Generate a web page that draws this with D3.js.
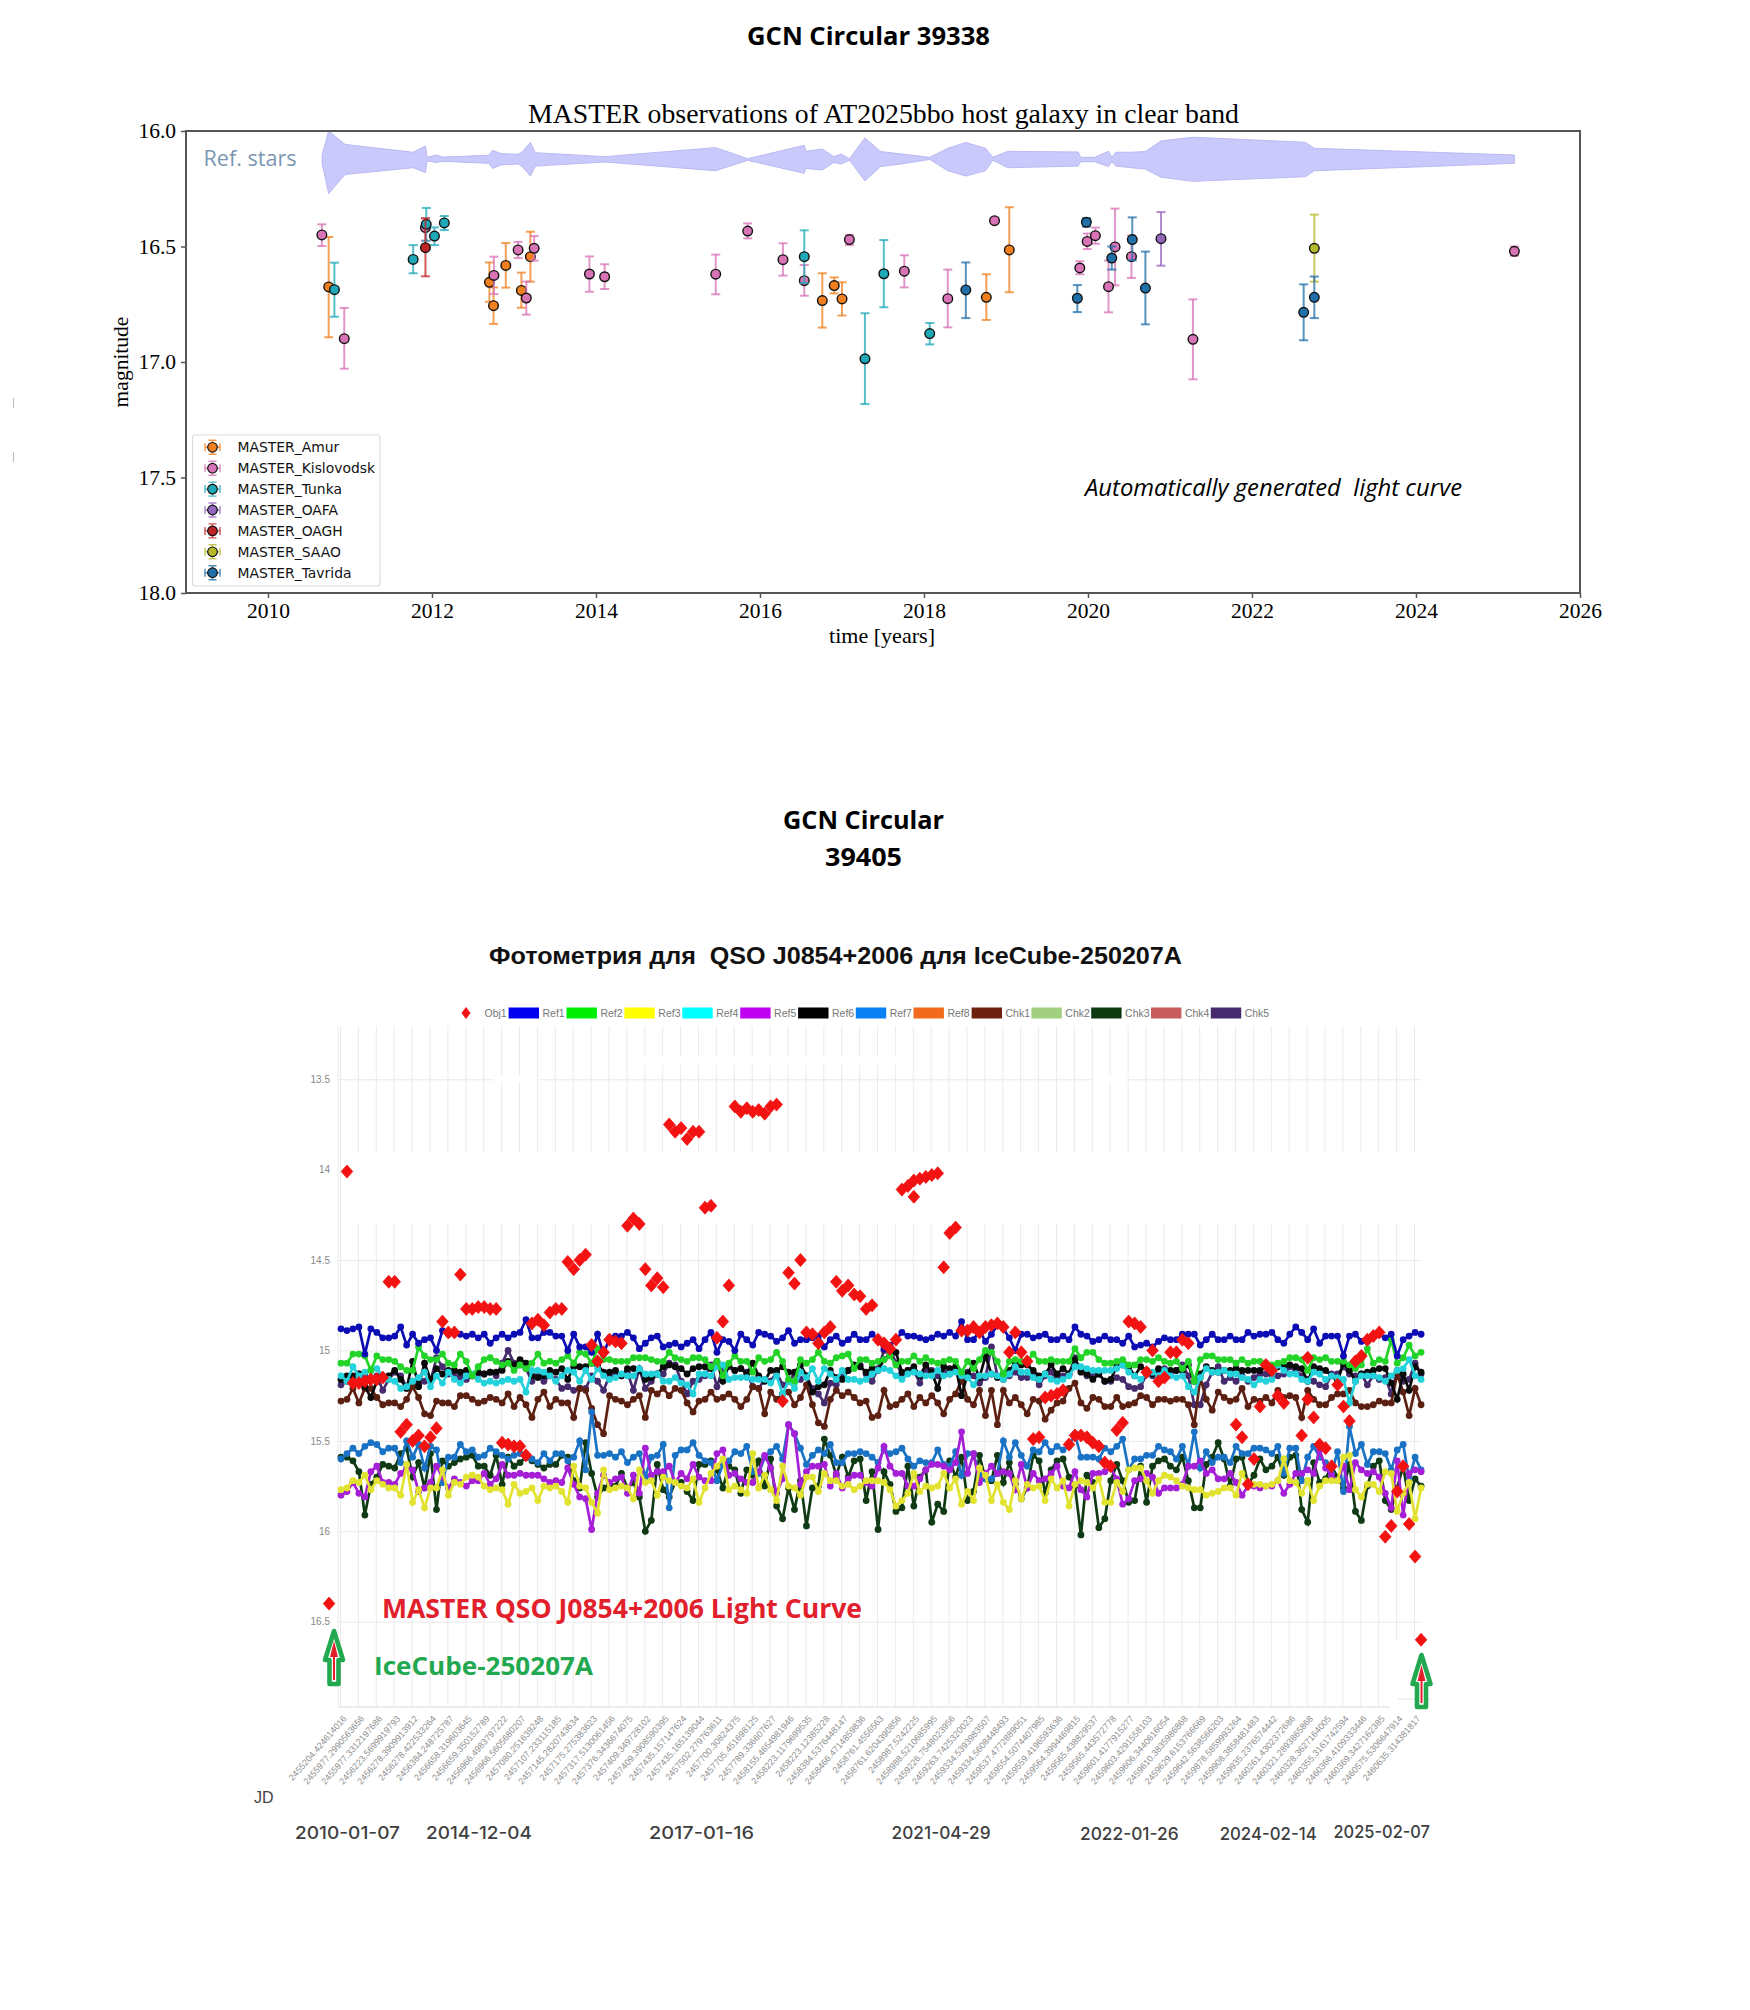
<!DOCTYPE html>
<html lang="en"><head><meta charset="utf-8">
<style>html,body{margin:0;padding:0;background:#fff}svg{display:block}text{white-space:pre}</style>
<script src="https://cdn.jsdelivr.net/npm/d3@7"></script></head><body>
<script>
// ---------- Chart 1: [year, magnitude, upper error end, lower error end]
const amur=[[2010.74,16.675,16.459,16.893],[2012.70,16.655,16.569,16.739],[2012.75,16.756,16.677,16.835],[2012.90,16.582,16.485,16.678],[2013.09,16.69,16.613,16.765],[2013.20,16.544,16.436,16.652],[2016.76,16.734,16.616,16.851],[2016.905,16.669,16.634,16.703],[2017.0,16.727,16.655,16.799],[2018.76,16.72,16.62,16.818],[2019.04,16.515,16.33,16.698]];
const kislovodsk=[[2010.657,16.45,16.404,16.498],[2010.93,16.899,16.766,17.029],[2011.92,16.418,16.378,16.475],[2012.755,16.625,16.544,16.706],[2013.05,16.515,16.48,16.55],[2013.15,16.723,16.652,16.795],[2013.246,16.508,16.455,16.561],[2013.92,16.619,16.543,16.696],[2014.105,16.631,16.577,16.684],[2015.46,16.62,16.535,16.707],[2015.85,16.433,16.40,16.465],[2016.28,16.557,16.486,16.626],[2016.54,16.648,16.58,16.713],[2017.09,16.47,16.45,16.494],[2017.76,16.607,16.538,16.677],[2018.29,16.726,16.60,16.85],[2018.86,16.388,16.38,16.40],[2019.90,16.593,16.564,16.62],[2019.99,16.478,16.444,16.511],[2020.09,16.453,16.418,16.488],[2020.25,16.674,16.561,16.785],[2020.33,16.502,16.336,16.668],[2020.53,16.544,16.452,16.636],[2021.28,16.902,16.729,17.075],[2025.20,16.521,16.50,16.54]];
const tunka=[[2010.81,16.687,16.57,16.804],[2011.77,16.556,16.494,16.616],[2011.93,16.404,16.333,16.475],[2012.03,16.455,16.417,16.494],[2012.15,16.398,16.368,16.429],[2016.54,16.544,16.43,16.658],[2017.28,16.986,16.789,17.182],[2017.51,16.618,16.472,16.763],[2018.07,16.877,16.831,16.924]];
const oafa=[[2020.89,16.466,16.351,16.583]];
const oagh=[[2011.92,16.505,16.378,16.629]];
const saao=[[2022.76,16.508,16.362,16.652]];
const tavrida=[[2018.51,16.688,16.569,16.81],[2019.87,16.724,16.667,16.784],[2019.98,16.395,16.377,16.414],[2020.29,16.55,16.50,16.60],[2020.54,16.47,16.374,16.56],[2020.70,16.68,16.522,16.837],[2022.63,16.785,16.664,16.906],[2022.76,16.72,16.63,16.81]];
const stationNames=["MASTER_Amur","MASTER_Kislovodsk","MASTER_Tunka","MASTER_OAFA","MASTER_OAGH","MASTER_SAAO","MASTER_Tavrida"];
const stationColors=["#f0801f","#d873b6","#1fa9b8","#9467bd","#c02525","#b8b92a","#1f6fa8"];
const xTicksYears=[2010,2012,2014,2016,2018,2020,2022,2024,2026];
const yTicksMag=[16,16.5,17,17.5,18];
// Reference star band: [year, upper, lower]
const refBand=[[2010.66,16.104,16.14],[2010.74,16.0,16.271],[2010.94,16.058,16.188],[2011.77,16.092,16.159],[2011.92,16.065,16.18],[2011.94,16.114,16.13],[2012.05,16.104,16.136],[2012.13,16.113,16.131],[2012.69,16.105,16.14],[2012.74,16.084,16.162],[2012.84,16.098,16.147],[2013.05,16.101,16.143],[2013.10,16.09,16.154],[2013.20,16.05,16.195],[2013.26,16.094,16.152],[2014.11,16.111,16.134],[2015.46,16.072,16.172],[2015.85,16.12,16.127],[2016.54,16.062,16.183],[2016.56,16.088,16.162],[2016.76,16.078,16.169],[2016.90,16.111,16.136],[2016.99,16.1,16.143],[2017.09,16.12,16.126],[2017.28,16.03,16.216],[2017.47,16.089,16.154],[2017.76,16.101,16.141],[2018.07,16.114,16.123],[2018.29,16.075,16.172],[2018.51,16.05,16.195],[2018.75,16.075,16.172],[2018.84,16.114,16.126],[2019.02,16.088,16.159],[2019.88,16.091,16.152],[2019.91,16.114,16.133],[2020.08,16.114,16.133],[2020.25,16.088,16.154],[2020.29,16.114,16.133],[2020.34,16.092,16.152],[2020.53,16.092,16.159],[2020.70,16.089,16.165],[2020.89,16.043,16.2],[2021.28,16.027,16.218],[2022.65,16.049,16.198],[2022.76,16.075,16.172],[2025.20,16.104,16.14]];

// ---------- Chart 2
const jdLabels=["2455204.424614016","2455977.2990563656","2455977.3312197686","2456223.5699919793","2456278.3909913912","2456278.422533264","2456384.248725787","2456658.319603645","2456659.350152789","2456966.4983797222","2456966.5605680207","2457080.251639248","2457107.233115185","2457145.2820743634","2457175.275383623","2457317.5130061456","2457376.3436674075","2457409.349728102","2457409.3908590395","2457435.157147624","2457435.165139044","2457502.279763611","2457700.30824375","2457705.451698125","2457789.336607627","2458155.4654981946","2458223.1179699535","2458223.12385228","2458384.5376448147","2458466.4714859836","2458761.4556563","2458761.6204390856","2458987.5242225","2458988.5210685995","2459226.7548023956","2459263.7425320023","2459334.5393983507","2459334.5608448493","2459537.4772889051","2459554.5074407985","2459559.4196593636","2459564.3994469815","2459565.438829537","2459565.443572778","2459601.4177915277","2459603.4291558103","2459606.3440616054","2459610.3835986868","2459629.6153766669","2459642.5638566203","2459878.5859993264","2459908.3858481483","2459935.2376574442","2460261.4302372686","2460321.2893865868","2460328.3627164005","2460355.3161742594","2460366.4109333446","2460369.3427162385","2460575.5306647914","2460635.314381817"];
const yTicks2=[13.5,14,14.5,15,15.5,16,16.5];
const ref1=[14.88,14.89,14.88,14.87,15.02,14.88,14.90,14.93,14.93,14.92,14.87,14.97,14.91,14.96,14.94,14.93,15.00,14.89,14.91,14.90,14.91,14.92,14.91,14.93,14.91,14.96,14.93,14.91,14.93,14.91,14.90,14.83,14.93,14.93,14.90,14.90,14.92,14.92,15.00,14.91,14.98,14.98,15.01,14.91,15.02,14.93,14.92,14.92,14.90,14.93,14.99,14.96,14.93,14.92,14.98,14.97,14.96,14.98,14.96,14.94,14.99,14.94,14.90,15.01,14.94,14.95,15.00,14.91,14.94,14.97,14.90,14.91,14.92,14.95,14.93,14.89,
14.96,14.94,14.94,14.93,14.92,14.98,14.94,14.92,14.96,14.94,14.91,14.94,14.94,14.91,14.94,14.99,14.97,14.94,14.90,14.92,14.92,14.93,14.94,14.93,14.91,14.92,14.90,14.92,14.84,14.94,14.94,14.89,14.95,14.91,14.86,14.88,14.93,15.00,14.91,14.91,14.93,14.92,14.91,14.94,14.94,14.92,14.94,14.87,14.91,14.92,14.95,14.94,14.92,14.94,14.94,
14.96,14.92,14.98,14.97,14.96,14.98,14.95,14.93,14.94,14.94,14.91,14.91,14.91,14.97,14.94,14.91,14.94,14.94,14.92,14.94,14.94,14.90,14.92,14.91,14.91,14.90,14.94,14.96,14.91,14.87,14.90,14.94,14.88,14.96,14.92,14.92,14.92,15.03,14.92,14.91,14.95,14.95,14.92,14.91,14.93,14.91,15.03,14.94,14.92,14.90,14.91];
const ref2=[15.07,15.07,15.02,15.02,15.03,15.11,15.03,15.05,15.05,15.06,15.09,15.11,15.11,14.98,15.03,15.05,15.05,15.02,15.07,15.08,15.02,15.06,15.14,15.09,15.05,15.04,15.06,15.08,15.07,15.11,15.08,15.10,15.07,15.02,15.07,15.06,15.07,15.05,15.03,15.07,15.01,15.02,15.07,14.99,15.05,15.05,15.06,15.06,15.06,15.04,15.04,15.04,15.05,15.06,15.06,15.01,15.04,15.05,15.06,15.04,15.04,15.05,15.09,15.06,15.14,15.07,15.03,15.06,15.06,15.12,15.04,15.06,15.05,15.01,15.06,15.16,
15.17,15.05,15.07,15.05,15.01,15.06,15.07,15.04,15.03,15.02,15.10,15.05,15.05,15.07,15.06,15.05,15.03,15.08,15.06,15.06,15.03,15.06,15.04,15.06,15.07,15.06,15.05,15.06,15.12,15.06,15.10,15.05,15.00,15.01,15.06,15.13,15.06,15.05,15.06,15.06,15.02,15.06,15.06,15.05,15.06,15.06,15.06,14.99,15.04,15.01,15.01,15.05,15.07,15.07,15.06,
15.05,15.08,15.08,15.05,15.05,15.06,15.04,15.06,15.07,15.06,15.10,15.06,15.17,15.05,15.03,15.03,15.05,15.05,15.05,15.07,15.05,15.07,15.06,15.06,15.07,15.08,15.07,15.06,15.04,15.04,15.05,15.11,15.04,15.05,15.04,15.06,15.06,15.06,15.08,15.10,15.08,14.99,15.07,15.05,15.06,14.94,15.07,15.04,14.97,15.03,15.01];
const ref3=[15.77,15.76,15.72,15.73,15.69,15.77,15.72,15.74,15.76,15.76,15.80,15.63,15.84,15.77,15.87,15.76,15.76,15.66,15.80,15.73,15.74,15.70,15.69,15.70,15.75,15.77,15.76,15.77,15.85,15.74,15.79,15.78,15.76,15.83,15.75,15.76,15.75,15.78,15.84,15.64,15.75,15.76,15.84,15.90,15.66,15.77,15.76,15.75,15.76,15.82,15.66,15.73,15.72,15.80,15.70,15.72,15.73,15.75,15.76,15.71,15.84,15.76,15.68,15.64,15.60,15.77,15.75,15.77,15.79,15.57,15.76,15.69,15.77,15.83,15.64,15.75,
15.76,15.80,15.70,15.70,15.78,15.68,15.72,15.72,15.75,15.74,15.77,15.75,15.72,15.72,15.72,15.73,15.77,15.86,15.83,15.79,15.68,15.78,15.75,15.76,15.75,15.68,15.76,15.71,15.85,15.78,15.83,15.65,15.69,15.83,15.74,15.84,15.88,15.72,15.82,15.74,15.76,15.75,15.83,15.71,15.76,15.72,15.86,15.74,15.72,15.73,15.76,15.71,15.84,15.84,15.73,
15.78,15.66,15.65,15.65,15.72,15.79,15.72,15.69,15.70,15.72,15.75,15.76,15.77,15.77,15.80,15.79,15.78,15.76,15.76,15.80,15.68,15.74,15.74,15.74,15.75,15.74,15.72,15.60,15.72,15.73,15.79,15.72,15.83,15.75,15.72,15.72,15.72,15.59,15.58,15.77,15.81,15.74,15.74,15.78,15.67,15.68,15.89,15.79,15.73,15.93,15.76];
const ref4=[15.14,15.17,15.09,15.14,15.12,15.11,15.10,15.14,15.16,15.17,15.21,15.20,15.17,15.15,15.12,15.20,15.14,15.18,15.12,15.16,15.18,15.14,15.13,15.16,15.18,15.17,15.18,15.17,15.16,15.17,15.16,15.23,15.11,15.11,15.12,15.14,15.17,15.14,15.11,15.12,15.17,15.11,15.16,15.10,15.14,15.16,15.15,15.13,15.14,15.14,15.10,15.13,15.13,15.13,15.17,15.17,15.15,15.18,15.19,15.24,15.13,15.13,15.14,15.09,15.08,15.16,15.15,15.15,15.15,15.16,15.16,15.16,15.18,15.14,15.24,15.17,
15.21,15.12,15.15,15.10,15.17,15.10,15.13,15.16,15.11,15.16,15.16,15.17,15.16,15.13,15.11,15.10,15.11,15.14,15.16,15.13,15.12,15.13,15.14,15.14,15.11,15.14,15.13,15.12,15.14,15.15,15.19,15.14,15.14,15.13,15.14,15.16,15.13,15.09,15.12,15.12,15.15,15.16,15.13,15.16,15.17,15.16,15.14,15.09,15.09,15.10,15.11,15.11,15.11,15.11,15.10,
15.08,15.12,15.14,15.16,15.13,15.12,15.14,15.11,15.14,15.15,15.14,15.20,15.23,15.15,15.10,15.12,15.12,15.11,15.13,15.13,15.15,15.16,15.19,15.16,15.17,15.16,15.08,15.11,15.13,15.13,15.16,15.17,15.12,15.13,15.16,15.14,15.15,15.16,15.29,15.17,15.14,15.14,15.14,15.15,15.17,15.14,15.11,15.10,15.05,15.14,15.16];
const ref5=[15.80,15.78,15.73,15.79,15.81,15.67,15.64,15.73,15.73,15.74,15.68,15.65,15.66,15.78,15.76,15.73,15.64,15.70,15.76,15.71,15.73,15.75,15.72,15.72,15.68,15.74,15.71,15.63,15.69,15.69,15.68,15.69,15.69,15.69,15.71,15.73,15.72,15.73,15.65,15.74,15.81,15.82,15.99,15.79,15.69,15.73,15.71,15.70,15.79,15.69,15.79,15.54,15.69,15.67,15.67,15.64,15.73,15.68,15.71,15.63,15.70,15.72,15.72,15.57,15.55,15.69,15.68,15.71,15.73,15.73,15.67,15.58,15.65,15.79,15.71,15.41,
15.46,15.74,15.67,15.64,15.64,15.63,15.75,15.68,15.76,15.71,15.69,15.69,15.73,15.75,15.65,15.53,15.64,15.68,15.68,15.75,15.75,15.71,15.66,15.63,15.63,15.64,15.66,15.62,15.45,15.68,15.57,15.73,15.68,15.64,15.68,15.67,15.68,15.77,15.63,15.76,15.68,15.72,15.71,15.68,15.64,15.75,15.76,15.67,15.77,15.81,15.68,15.68,15.67,15.65,15.71,
15.85,15.82,15.72,15.71,15.68,15.70,15.79,15.76,15.76,15.76,15.74,15.64,15.64,15.61,15.68,15.66,15.71,15.71,15.68,15.73,15.80,15.75,15.75,15.76,15.75,15.75,15.72,15.79,15.74,15.68,15.68,15.66,15.68,15.55,15.65,15.69,15.72,15.64,15.77,15.62,15.66,15.68,15.67,15.70,15.79,15.87,15.61,15.91,15.68,15.66,15.67];
const ref6=[15.16,15.14,15.14,15.13,15.20,15.26,15.17,15.15,15.14,15.11,15.16,15.21,15.06,15.20,15.07,15.16,15.10,15.13,15.11,15.11,15.12,15.11,15.14,15.12,15.13,15.12,15.12,15.11,15.06,15.08,15.05,15.07,15.14,15.15,15.14,15.11,15.12,15.10,15.16,15.09,15.09,15.09,15.07,15.08,15.12,15.12,15.11,15.14,15.10,15.10,15.11,15.16,15.15,15.13,15.09,15.08,15.09,15.10,15.13,15.10,15.09,15.09,15.10,15.06,15.17,15.08,15.11,15.10,15.13,15.07,15.14,15.17,15.11,15.11,15.09,15.12,
15.12,15.08,15.14,15.23,15.20,15.19,15.11,15.15,15.16,15.11,15.08,15.09,15.12,15.10,15.11,15.05,15.02,15.01,15.12,15.11,15.09,15.14,15.08,15.12,15.21,15.09,15.10,15.09,15.25,15.13,15.07,15.15,15.03,15.13,15.15,15.13,15.11,15.07,15.08,15.08,15.11,15.14,15.13,15.08,15.13,15.10,15.13,15.05,15.12,15.13,15.16,15.13,15.17,15.16,15.09,
15.08,15.09,15.14,15.09,15.11,15.13,15.10,15.11,15.11,15.11,15.11,15.08,15.17,15.13,15.09,15.11,15.12,15.11,15.11,15.10,15.11,15.11,15.11,15.11,15.09,15.12,15.09,15.09,15.08,15.09,15.10,15.17,15.09,15.10,15.11,15.14,15.17,15.07,15.11,15.17,15.13,15.12,15.11,15.10,15.10,15.18,15.27,15.13,15.22,15.09,15.12];
const ref7=[15.60,15.57,15.54,15.57,15.53,15.51,15.52,15.56,15.54,15.54,15.62,15.50,15.59,15.52,15.65,15.53,15.55,15.73,15.59,15.59,15.52,15.56,15.55,15.59,15.58,15.54,15.56,15.58,15.60,15.58,15.57,15.59,15.60,15.62,15.57,15.61,15.57,15.57,15.61,15.59,15.50,15.66,15.34,15.58,15.58,15.57,15.59,15.56,15.62,15.59,15.57,15.70,15.59,15.58,15.52,15.87,15.58,15.55,15.55,15.51,15.58,15.61,15.62,15.72,15.63,15.61,15.56,15.57,15.53,15.67,15.68,15.59,15.56,15.53,15.60,15.41,
15.46,15.54,15.63,15.58,15.55,15.57,15.52,15.62,15.62,15.57,15.57,15.56,15.57,15.59,15.62,15.55,15.57,15.56,15.54,15.60,15.64,15.61,15.62,15.62,15.55,15.63,15.64,15.56,15.69,15.57,15.57,15.69,15.71,15.71,15.68,15.50,15.59,15.51,15.58,15.64,15.55,15.56,15.51,15.56,15.53,15.55,15.53,15.46,15.59,15.59,15.59,15.60,15.54,15.56,15.53,
15.49,15.66,15.60,15.60,15.58,15.58,15.53,15.55,15.56,15.60,15.53,15.64,15.45,15.65,15.56,15.62,15.59,15.59,15.62,15.53,15.57,15.57,15.54,15.54,15.55,15.57,15.53,15.68,15.54,15.54,15.72,15.59,15.53,15.59,15.62,15.68,15.56,15.78,15.42,15.57,15.52,15.63,15.56,15.56,15.57,15.66,15.55,15.52,15.71,15.59,15.66];
const chk1=[15.28,15.27,15.21,15.29,15.21,15.21,15.26,15.30,15.29,15.29,15.31,15.27,15.20,15.26,15.35,15.36,15.28,15.29,15.29,15.31,15.25,15.25,15.27,15.29,15.28,15.26,15.27,15.29,15.24,15.31,15.26,15.30,15.37,15.27,15.23,15.31,15.27,15.29,15.29,15.37,15.21,15.22,15.32,15.41,15.46,15.25,15.27,15.28,15.30,15.27,15.25,15.37,15.22,15.24,15.21,15.25,15.21,15.22,15.29,15.34,15.28,15.27,15.23,15.27,15.26,15.24,15.27,15.31,15.27,15.20,15.21,15.35,15.23,15.27,15.24,15.23,
15.30,15.26,15.19,15.30,15.40,15.42,15.27,15.22,15.25,15.23,15.26,15.29,15.28,15.37,15.36,15.22,15.31,15.30,15.27,15.24,15.31,15.26,15.29,15.25,15.29,15.35,15.27,15.24,15.16,15.27,15.30,15.22,15.36,15.22,15.41,15.22,15.29,15.26,15.30,15.35,15.27,15.28,15.38,15.33,15.29,15.28,15.21,15.18,15.29,15.32,15.26,15.27,15.31,15.31,15.26,
15.31,15.30,15.29,15.25,15.26,15.30,15.27,15.27,15.28,15.27,15.27,15.30,15.41,15.15,15.27,15.33,15.23,15.26,15.28,15.27,15.21,15.31,15.27,15.28,15.26,15.29,15.22,15.26,15.25,15.26,15.37,15.22,15.27,15.30,15.30,15.26,15.24,15.24,15.22,15.29,15.31,15.31,15.30,15.28,15.29,15.29,15.13,15.23,15.36,15.21,15.30];
const chk3=[15.59,15.59,15.61,15.67,15.91,15.74,15.70,15.63,15.64,15.65,15.57,15.54,15.70,15.62,15.76,15.57,15.88,15.61,15.64,15.62,15.60,15.59,15.58,15.64,15.64,15.69,15.58,15.74,15.59,15.64,15.62,15.59,15.61,15.63,15.65,15.63,15.63,15.58,15.59,15.72,15.76,15.51,15.68,15.81,15.76,15.74,15.75,15.68,15.76,15.73,15.81,16.00,15.94,15.63,15.77,15.81,15.73,15.73,15.78,15.83,15.63,15.63,15.61,15.66,15.76,15.64,15.66,15.79,15.66,15.69,15.61,15.75,15.60,15.86,15.93,15.76,
15.88,15.72,15.97,15.76,15.75,15.49,15.58,15.69,15.59,15.70,15.61,15.60,15.83,15.67,15.99,15.67,15.74,15.89,15.87,15.64,15.86,15.70,15.66,15.95,15.85,15.89,15.61,15.70,15.59,15.83,15.78,15.58,15.71,15.72,15.58,15.73,15.62,15.74,15.82,15.76,15.58,15.61,15.79,15.66,15.61,15.60,15.70,15.75,16.02,15.69,15.73,15.98,15.93,15.72,15.63,
15.72,15.84,15.83,15.64,15.84,15.64,15.61,15.60,15.64,15.66,15.59,15.72,15.87,15.87,15.63,15.59,15.51,15.60,15.75,15.60,15.59,15.74,15.69,15.60,15.66,15.64,15.59,15.69,15.59,15.58,15.88,15.95,15.62,15.73,15.71,15.64,15.70,15.76,15.63,15.89,15.94,15.75,15.64,15.61,15.83,15.88,15.76,15.64,15.83,15.71,15.75];
const chk5=[15.19,15.17,15.16,15.13,15.14,15.16,15.14,15.22,15.16,15.12,15.14,15.20,15.17,15.19,15.17,15.17,15.04,15.09,15.13,15.14,15.15,15.16,15.14,15.13,15.13,15.12,15.14,15.07,15.00,15.07,15.08,15.10,15.17,15.14,15.17,15.14,15.16,15.21,15.20,15.22,15.21,15.21,15.14,15.17,15.22,15.14,15.14,15.14,15.12,15.22,15.10,15.21,15.17,15.13,15.13,15.07,15.08,15.17,15.24,15.17,15.16,15.14,15.08,15.20,15.10,15.09,15.11,15.10,15.12,15.20,15.21,15.16,15.17,15.12,15.19,15.17,
15.13,15.16,15.14,15.21,15.24,15.29,15.18,15.19,15.14,15.11,15.09,15.08,15.13,15.17,15.10,15.00,14.99,15.07,15.13,15.11,15.11,15.18,15.11,15.11,15.14,15.12,15.13,15.11,15.17,15.12,15.14,15.18,15.15,14.98,15.14,15.16,15.14,15.12,15.15,15.15,15.13,15.19,15.14,15.12,15.16,15.14,15.13,15.04,15.11,15.14,15.14,15.13,15.17,15.17,15.15,
15.16,15.20,15.21,15.20,15.13,15.14,15.12,15.10,15.13,15.11,15.08,15.14,15.30,15.30,15.19,15.12,15.09,15.17,15.15,15.17,15.14,15.17,15.15,15.13,15.13,15.14,15.14,15.13,15.09,15.11,15.14,15.16,15.17,15.19,15.20,15.13,15.13,15.09,15.13,15.14,15.13,15.19,15.14,15.16,15.15,15.24,15.11,15.17,15.16,15.07,15.13];
// Obj1 light curve: point position on the frame axis, magnitude
const objIndex=[-2,1,2,3,4,5,6,7,8,9,10,11,12,13,14,15,16,17,18,19,20,21,22,23,24,25,26,27,28,29,30,31,32,33,34,35,36,37,38,39,40,41,42,43,44,45,46,47,48,49,50,51,52,53,54,55,56,57,58,59,60,61,62,63,64,65,66,67,68,69,70,71,72,73,74,75,76,77,78,79,80,81,82,83,84,85,86,87,88,89,90,91,92,93,94,95,96,96,97,98,99,100,101,102,103,104,105,106,107,108,109,110,111,112,113,114,115,116,117,118,119,120,121,122,123,124,125,126,127,128,129,130,131,132,133,134,135,136,137,138,139,140,141,142,150,151,152,153,154,155,156,157,158,161,162,162,163,164,165,166,167,168,169,170,171,172,173,174,175,176,177,178,179,180,181];
const objMag=[16.40,14.01,15.18,15.18,15.17,15.16,15.16,15.15,14.62,14.62,15.45,15.41,15.50,15.47,15.53,15.48,15.43,14.84,14.90,14.90,14.58,14.77,14.77,14.76,14.76,14.77,14.77,15.51,15.52,15.53,15.53,15.58,14.85,14.83,14.86,14.79,14.77,14.77,14.51,14.55,14.50,14.47,14.97,15.06,15.01,14.94,14.95,14.96,14.31,14.27,14.30,14.55,14.64,14.60,14.65,13.75,13.79,13.77,13.83,13.79,13.79,14.21,14.20,14.93,14.84,14.64,13.65,13.68,13.66,13.68,13.67,13.69,13.65,13.64,15.28,14.57,14.63,14.50,14.90,14.91,14.96,14.90,14.87,14.62,14.67,14.64,14.69,14.70,14.77,14.75,14.94,14.96,14.99,14.94,14.11,14.09,14.06,14.15,14.05,14.04,14.03,14.02,14.54,14.35,14.32,14.89,14.89,14.87,14.90,14.87,14.86,14.85,14.87,15.01,14.90,15.01,15.06,15.49,15.48,15.26,15.25,15.24,15.22,15.52,15.47,15.47,15.48,15.51,15.53,15.62,15.64,15.44,15.40,14.84,14.85,14.87,15.12,15.00,15.17,15.15,15.01,15.01,14.94,14.96,15.41,15.48,15.74,15.60,15.31,15.08,15.11,15.25,15.29,15.47,15.04,15.27,15.37,15.52,15.54,15.64,15.19,15.31,15.39,15.06,15.03,14.94,14.92,14.90,16.03,15.97,15.78,15.64,15.96,16.14,16.60];
const lineNames=["Ref1","Ref2","Ref3","Ref4","Ref5","Ref6","Ref7","Ref8","Chk1","Chk2","Chk3","Chk4","Chk5"];
const legendColors=["#0000f0","#00ee00","#ffff00","#00ffff","#c000f0","#000000","#0a80f5","#f26a1c","#6b2010","#a3cf80","#0c3a10","#c95c5c","#452b6e"];
const dateNames=["2010-01-07","2014-12-04","2017-01-16","2021-04-29","2022-01-26","2024-02-14","2025-02-07"];

const W=1750,H=2010;
const svg=d3.select("body").append("svg").attr("width",W).attr("height",H).attr("viewBox",`0 0 ${W} ${H}`);
function label(s,x,y,size,fam,opt={}){
  const t=svg.append("text").attr("x",x).attr("y",y).attr("font-size",size).attr("font-family",fam)
    .attr("fill",opt.fill||"#000").attr("text-anchor",opt.anchor||"start").text(s);
  if(opt.weight)t.attr("font-weight",opt.weight);
  if(opt.italic)t.attr("font-style","italic");
  if(opt.len)t.attr("textLength",opt.len).attr("lengthAdjust","spacingAndGlyphs");
  return t;
}
const SERIF="'Liberation Serif',serif", SANS="'Open Sans',sans-serif", ARIAL="'Liberation Sans',sans-serif", DJ="'DejaVu Sans',sans-serif";

label("GCN Circular 39338",747,45,24.5,SANS,{weight:700,len:243});
label("GCN Circular",783,829,24.5,SANS,{weight:700,len:161});
label("39405",825,866,24.5,SANS,{weight:700,len:77});
label("MASTER observations of AT2025bbo host galaxy in clear band",528,122.5,27,SERIF,{len:711});

// ======= Chart 1
const x1=d3.scaleLinear([2009,2026],[186,1580]);
const y1=d3.scaleLinear([16,18],[131,593]);
const g1=svg.append("g");
const band=d3.area().x(d=>x1(d[0])).y0(d=>y1(d[1])).y1(d=>y1(d[2]));
g1.append("path").datum(refBand).attr("d",band).attr("fill","#c9c9fb").attr("stroke","#b9b9f2").attr("stroke-width",1);
const stations=[amur,kislovodsk,tunka,oafa,oagh,saao,tavrida];
stations.forEach((rows,k)=>{
  const c=stationColors[k];
  const g=g1.append("g");
  const eb=g.selectAll("g").data(rows).join("g").attr("stroke",c).attr("stroke-width",2).attr("stroke-opacity",.75);
  eb.append("line").attr("x1",d=>x1(d[0])).attr("x2",d=>x1(d[0])).attr("y1",d=>y1(d[2])).attr("y2",d=>y1(d[3]));
  eb.append("line").attr("x1",d=>x1(d[0])-4.5).attr("x2",d=>x1(d[0])+4.5).attr("y1",d=>y1(d[2])).attr("y2",d=>y1(d[2]));
  eb.append("line").attr("x1",d=>x1(d[0])-4.5).attr("x2",d=>x1(d[0])+4.5).attr("y1",d=>y1(d[3])).attr("y2",d=>y1(d[3]));
  g.selectAll("circle").data(rows).join("circle").attr("cx",d=>x1(d[0])).attr("cy",d=>y1(d[1])).attr("r",4.8)
    .attr("fill",c).attr("stroke","#111").attr("stroke-width",1.4);
});
// frame and axes
g1.append("rect").attr("x",186).attr("y",131).attr("width",1394).attr("height",462).attr("fill","none").attr("stroke","#555").attr("stroke-width",2);
const ax=g1.append("g").attr("transform","translate(0,593)").call(d3.axisBottom(x1).tickValues(xTicksYears).tickFormat(d3.format("d")).tickSize(5).tickPadding(5));
const ay=g1.append("g").attr("transform","translate(186,0)").call(d3.axisLeft(y1).tickValues(yTicksMag).tickFormat(d3.format(".1f")).tickSize(5).tickPadding(5));
[ax,ay].forEach(a=>{a.select(".domain").remove();a.selectAll("line").attr("stroke","#555").attr("stroke-width",1.5);
  a.selectAll("text").attr("font-family",SERIF).attr("font-size",21.5).attr("fill","#000");});
label("time [years]",829,643,21,SERIF,{len:106});
svg.append("text").attr("transform","translate(128,362) rotate(-90)").attr("text-anchor","middle").attr("font-family",SERIF).attr("font-size",21.5).text("magnitude");
label("Ref. stars",203.5,166,22,SANS,{fill:"#7b97b3",len:93});
label("Automatically generated  light curve",1085,496,23,SANS,{italic:true,len:377});
// legend
const leg=g1.append("g");
leg.append("rect").attr("x",192.5).attr("y",435).attr("width",187.5).attr("height",151).attr("rx",3).attr("fill","#fff").attr("fill-opacity",.9).attr("stroke","#ddd").attr("stroke-width",1.2);
stationNames.forEach((n,i)=>{
  const yy=447.3+i*20.9, xx=212.5, c=stationColors[i];
  const e=leg.append("g").attr("stroke",c).attr("stroke-width",1.4).attr("stroke-opacity",.8).attr("fill","none");
  e.append("path").attr("d",`M${xx} ${yy-7}V${yy+7}M${xx-4} ${yy-7}H${xx+4}M${xx-4} ${yy+7}H${xx+4}M${xx-7.5} ${yy}H${xx+7.5}M${xx-7.5} ${yy-4}V${yy+4}M${xx+7.5} ${yy-4}V${yy+4}`);
  leg.append("circle").attr("cx",xx).attr("cy",yy).attr("r",4.8).attr("fill",c).attr("stroke","#111").attr("stroke-width",1.2);
  leg.append("text").attr("x",237.5).attr("y",yy+5).attr("font-family",DJ).attr("font-size",13.9).attr("fill","#111").text(n);
});
// stray marks
[[13,398,10],[13,452,10]].forEach(d=>svg.append("rect").attr("x",d[0]).attr("y",d[1]).attr("width",1).attr("height",d[2]).attr("fill","#bbb"));

// ======= Chart 2
label("Фотометрия для  QSO J0854+2006 для IceCube-250207A",489,964,23.5,ARIAL,{weight:700,len:693,fill:"#111"});
const xi=d3.scaleLinear([0,180],[341,1415.1]);
const y2=d3.scaleLinear([13.5,16.5],[1079.3,1621.7]);
const xg=d3.scalePoint(jdLabels,[340,1414]);
const g2=svg.append("g");
// grid
const gridV=g2.append("g").attr("transform","translate(0,1707)").call(d3.axisBottom(xg).tickSize(-681).tickFormat(""));
gridV.select(".domain").remove();
gridV.selectAll("line").attr("stroke","#ebebeb").attr("stroke-width",1);
g2.append("line").attr("x1",338).attr("x2",338).attr("y1",1026).attr("y2",1707).attr("stroke","#ebebeb");
const gridH=g2.append("g").call(d3.axisLeft(y2).tickValues(yTicks2).tickSize(-1083).tickPadding(8).tickFormat(d=>d));
gridH.attr("transform","translate(338,0)");
gridH.select(".domain").remove();
gridH.selectAll("line").attr("stroke","#e9e9e9").attr("stroke-width",1);
gridH.selectAll("text").attr("font-family",ARIAL).attr("font-size",10).attr("fill","#888");
g2.append("line").attr("x1",338).attr("x2",1390).attr("y1",1707).attr("y2",1707).attr("stroke","#e6e6e6").attr("stroke-width",1.4);
// white retouched areas of the original picture
[[342,1153,1110,70],[494,1076,43,6],[1093,1076,35,6],[640,1056,260,9],[1392,1640,70,72]].forEach(r=>
  g2.append("rect").attr("x",r[0]).attr("y",r[1]).attr("width",r[2]).attr("height",r[3]).attr("fill","#fff"));
g2.append("line").attr("x1",1398).attr("x2",1431).attr("y1",1699).attr("y2",1699).attr("stroke","#e6e6e6");
// JD labels
g2.selectAll("text.jd").data(jdLabels).join("text").attr("class","jd").attr("text-anchor","end")
  .attr("transform",d=>`translate(${xg(d)+7},1719) rotate(-49)`)
  .attr("font-family",ARIAL).attr("font-size",9).attr("fill","#8f8f8f").text(d=>d);
// legend
const ly=1013;
g2.append("path").attr("transform",`translate(466,${ly})`).attr("d","M0,-6L4.5,0L0,6L-4.5,0Z").attr("fill","#f01414");
g2.append("text").attr("x",484.5).attr("y",ly+4).attr("font-family",ARIAL).attr("font-size",10.5).attr("fill","#777").text("Obj1");
const lx=i=>i<6?508.6+i*57.9:i<8?855.8+(i-6)*57.7:971.6+(i-8)*59.8;
lineNames.forEach((n,i)=>{
  g2.append("rect").attr("x",lx(i)).attr("y",ly-5.5).attr("width",30.4).attr("height",11).attr("fill",legendColors[i]);
  g2.append("text").attr("x",lx(i)+33.9).attr("y",ly+4).attr("font-family",ARIAL).attr("font-size",10.5).attr("fill","#777").text(n);
});
// lines
const lineStyles=[[chk5,"#452b6e"],[chk3,"#0f3a14"],[chk1,"#5c2012"],[ref6,"#0a0a0a"],[ref7,"#1a72c4"],[ref5,"#a41fd6"],[ref3,"#e2e230"],[ref4,"#24d2dc"],[ref2,"#22d428"],[ref1,"#0c0cb4"]];
const ln=d3.line().x((d,i)=>xi(i)).y(d=>y2(d));
lineStyles.forEach(([v,c])=>{
  const g=g2.append("g");
  g.append("path").datum(v).attr("d",ln).attr("fill","none").attr("stroke",c).attr("stroke-width",2.7);
  g.selectAll("circle").data(v).join("circle").attr("cx",(d,i)=>xi(i)).attr("cy",d=>y2(d)).attr("r",3.4).attr("fill",c);
});
// Obj1
g2.selectAll("path.obj").data(objMag).join("path").attr("class","obj").attr("d","M0,-6.5L5.8,0L0,6.5L-5.8,0Z").attr("fill","#f21212")
  .attr("stroke","#f21212").attr("stroke-width",.8).attr("stroke-linejoin","round")
  .attr("transform",(d,i)=>`translate(${xi(objIndex[i])},${y2(d)})`);
// annotations
label("MASTER QSO J0854+2006 Light Curve",382,1618,26,SANS,{weight:700,fill:"#e2202c",len:480});
label("IceCube-250207A",374,1675,25,SANS,{weight:700,fill:"#22a84f",len:219});
function arrow(cx,tip,base){
  const hb=tip+29;
  const outer=`M${cx} ${tip}L${cx+9} ${hb}H${cx+4.5}V${base}H${cx-4.5}V${hb}H${cx-9}Z`;
  g2.append("path").attr("d",outer).attr("fill","#fff").attr("stroke","#22a84f").attr("stroke-width",4.6).attr("stroke-linejoin","round");
  g2.append("path").attr("d",`M${cx} ${tip+10}L${cx+4} ${tip+26}H${cx+1}V${base-4}H${cx-1}V${tip+26}H${cx-4}Z`).attr("fill","#e2202c");
}
arrow(334,1631,1684);
arrow(1421.5,1655,1707);
label("JD",254,1803,16,ARIAL,{fill:"#444"});
const dateX=[295,426,649,891.6,1080,1219.7,1333.5],dateY=[1839,1838.7,1839,1838.7,1840,1840,1838],dateW=[105,106,105,99,98.6,97,96.5];
dateNames.forEach((d,i)=>label(d,dateX[i],dateY[i],17.5,"Inter,sans-serif",{fill:"#3f3f3f",weight:500,len:dateW[i]}));
</script>
</body></html>
